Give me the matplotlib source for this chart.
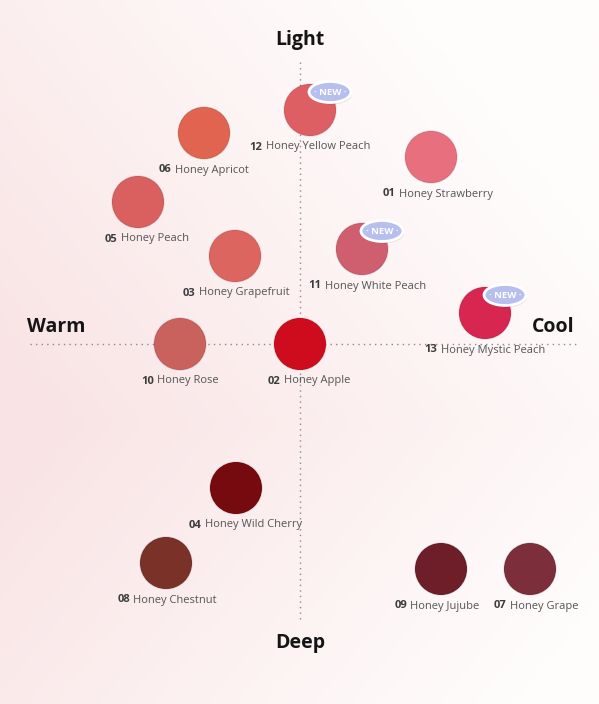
import numpy as np
import matplotlib
matplotlib.use("Agg")
import matplotlib.pyplot as plt
from matplotlib.patches import Ellipse

# shade map data (pixel-ish layout coords, y grows downward)
codes = ["12", "06", "01", "05", "03", "11", "13", "10", "02", "04", "08", "09", "07"]
names = ["Honey Yellow Peach", "Honey Apricot", "Honey Strawberry", "Honey Peach",
         "Honey Grapefruit", "Honey White Peach", "Honey Mystic Peach", "Honey Rose",
         "Honey Apple", "Honey Wild Cherry", "Honey Chestnut", "Honey Jujube", "Honey Grape"]
xs = [310, 204, 431, 138, 235, 362, 485, 180, 300, 236, 166, 441, 530]
ys = [110, 133, 157, 202, 256, 249, 313, 344, 344, 488, 563, 569, 569]
label_x = [310, 204, 438, 147, 236, 367, 485, 180, 309, 245, 167, 437, 536]
colors = ["#de5f63", "#e0644f", "#e8707e", "#d9605e", "#dc6560", "#cf5f6e", "#d72650",
          "#c9625c", "#cf0c1e", "#760a0e", "#7a3128", "#6d1e28", "#7c2f3a"]
is_new = [True, False, False, False, False, True, True, False, False, False, False, False, False]

axis_words = ["Light", "Deep", "Warm", "Cool"]
axis_pos = [(300, 40), (300, 643), (56, 327), (553, 327)]

plt.rcParams['font.family'] = ['Open Sans', 'DejaVu Sans']

fig = plt.figure(figsize=(5.99, 7.04), dpi=100)
ax = fig.add_axes([0, 0, 1, 1])
ax.set_xlim(0, 599)
ax.set_ylim(704, 0)
ax.axis('off')

# soft pink background
gx, gy = np.meshgrid(np.linspace(0, 1, 300), np.linspace(0, 1, 350))
pink = np.array([249, 227, 228]) / 255.0
white = np.array([255, 252, 252]) / 255.0
w = np.clip(1.05 - (gx * 0.85 + np.abs(gy - 0.6) * 0.8), 0, 1) ** 1.1
bg = white[None, None, :] * (1 - w[..., None]) + pink[None, None, :] * w[..., None]
ax.imshow(bg, extent=[0, 599, 704, 0], aspect='auto', zorder=0)

# dotted axes
ax.plot([30, 576], [344, 344], ls=(0, (1, 3)), color="#8a8a8a", lw=1, zorder=1)
ax.plot([300, 300], [62, 622], ls=(0, (1, 3)), color="#8a8a8a", lw=1, zorder=1)

for word, (px, py) in zip(axis_words, axis_pos):
    ax.text(px, py, word, ha='center', va='center', fontsize=14, fontweight='bold',
            color="#151515", zorder=5)

# swatches
r = 26
ax.scatter(xs, ys, s=(2 * r * 72 / 100) ** 2, c=colors, edgecolors="#0000001a",
           linewidths=1.0, zorder=3)

# labels: bold code + regular name, centred together
fig.canvas.draw()
renderer = fig.canvas.get_renderer()
for code, name, lx, y in zip(codes, names, label_x, ys):
    ly = y + r + 13.5
    t1 = ax.text(0, ly, code, ha='left', va='baseline', fontsize=8, fontweight='bold',
                 color="#3c3c3c", zorder=5)
    t2 = ax.text(0, ly, name, ha='left', va='baseline', fontsize=8,
                 color="#555555", zorder=5)
    w1 = t1.get_window_extent(renderer).width * 599 / fig.bbox.width
    w2 = t2.get_window_extent(renderer).width * 599 / fig.bbox.width
    gap = 3.5
    x0 = lx - (w1 + gap + w2) / 2
    t1.set_x(x0)
    t2.set_x(x0 + w1 + gap)

# NEW badges
for x, y, n in zip(xs, ys, is_new):
    if not n:
        continue
    bx, by = x + 20, y - 18
    ax.add_patch(Ellipse((bx + 1, by + 2), 42, 21, facecolor="#00000018", edgecolor='none', zorder=4))
    ax.add_patch(Ellipse((bx, by), 42, 21, facecolor="#b7bfee", edgecolor="white", lw=2, zorder=4))
    ax.text(bx, by + 0.5, "· NEW ·", ha='center', va='center', fontsize=6.8, fontweight='bold',
            color="white", zorder=5)

fig.savefig("out.png", dpi=100)
